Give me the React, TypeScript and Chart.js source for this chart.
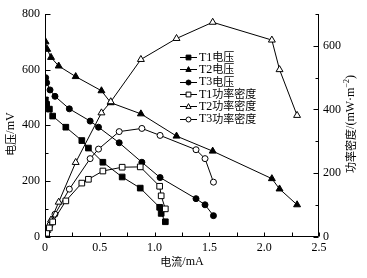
import React, { useEffect, useRef } from 'react';
import { Chart, registerables } from 'chart.js';

Chart.register(...registerables);

// ---- data (current in mA, voltage in mV, power density in mW·m^-2) ----
const t1Current = [0.003, 0.015, 0.04, 0.07, 0.19, 0.336, 0.396, 0.528, 0.704, 0.869, 1.046, 1.06, 1.098];
const t1Voltage = [491, 475, 458, 433, 393, 345, 318, 267, 214, 174, 105, 83, 53];
const t1Power = [2, 10, 27, 46, 112, 168, 180, 206, 218, 219, 158, 128, 87];

const t2Current = [0.005, 0.02, 0.055, 0.125, 0.28, 0.515, 0.6, 0.875, 1.2, 1.53, 2.07, 2.14, 2.3];
const t2Voltage = [700, 673, 644, 613, 575, 524, 481, 441, 361, 307, 208, 171, 114];
const t2Power = [5, 19, 52, 108, 233, 389, 424, 557, 623, 674, 618, 525, 381];

const t3Current = [0.006, 0.015, 0.046, 0.091, 0.222, 0.412, 0.488, 0.677, 0.884, 1.05, 1.378, 1.46, 1.537];
const t3Voltage = [571, 553, 527, 504, 459, 415, 393, 337, 267, 212, 136, 114, 75];
const t3Power = [5, 12, 36, 70, 149, 245, 275, 330, 340, 318, 273, 245, 171];

const legendLabels = ['T1电压', 'T2电压', 'T3电压', 'T1功率密度', 'T2功率密度', 'T3功率密度'];
const xTitle = '电流/mA';
const yTitle = '电压/mV';
const y1Title = '功率密度/(mW·m';

const SERIF = '"Liberation Serif", "Times New Roman", serif';
const CJK = '"Noto Sans CJK SC", sans-serif';

const pts = (xs: number[], ys: number[]) => xs.map((x, i) => ({ x, y: ys[i] }));

type Run = { t: string; font: string; dy?: number };

function drawRuns(ctx: CanvasRenderingContext2D, runs: Run[], cx: number, cy: number, rot: number) {
  ctx.save();
  ctx.translate(cx, cy);
  ctx.rotate(rot);
  ctx.textBaseline = 'middle';
  ctx.textAlign = 'left';
  ctx.fillStyle = '#000';
  let total = 0;
  const widths = runs.map((r) => {
    ctx.font = r.font;
    const w = ctx.measureText(r.t).width;
    total += w;
    return w;
  });
  let x = -total / 2;
  runs.forEach((r, i) => {
    ctx.font = r.font;
    ctx.fillText(r.t, x, r.dy || 0);
    x += widths[i];
  });
  ctx.restore();
}

function drawRunsLeft(ctx: CanvasRenderingContext2D, runs: Run[], x0: number, cy: number) {
  ctx.save();
  ctx.textBaseline = 'middle';
  ctx.textAlign = 'left';
  ctx.fillStyle = '#000';
  let x = x0;
  runs.forEach((r) => {
    ctx.font = r.font;
    ctx.fillText(r.t, x, r.dy || 0 + cy);
    x += ctx.measureText(r.t).width;
  });
  ctx.restore();
}

function marker(ctx: CanvasRenderingContext2D, shape: string, filled: boolean, x: number, y: number, s: number) {
  ctx.beginPath();
  if (shape === 'rect') {
    ctx.rect(x - s, y - s, 2 * s, 2 * s);
  } else if (shape === 'triangle') {
    ctx.moveTo(x, y - s * 1.2);
    ctx.lineTo(x + s * 1.1, y + s * 0.8);
    ctx.lineTo(x - s * 1.1, y + s * 0.8);
    ctx.closePath();
  } else {
    ctx.arc(x, y, s, 0, Math.PI * 2);
  }
  ctx.fillStyle = filled ? '#000' : '#fff';
  ctx.fill();
  ctx.lineWidth = 1;
  ctx.strokeStyle = '#000';
  ctx.stroke();
}

const legendShapes = [
  ['rect', true],
  ['triangle', true],
  ['circle', true],
  ['rect', false],
  ['triangle', false],
  ['circle', false],
] as const;

const decor = {
  id: 'decor',
  afterDraw(chart: any) {
    const ctx: CanvasRenderingContext2D = chart.ctx;
    const { left, right, top, bottom } = chart.chartArea;
    const xs = chart.scales.x;
    const ys = chart.scales.y;
    const y1s = chart.scales.y1;
    ctx.save();
    ctx.strokeStyle = '#000';
    ctx.lineWidth = 1;
    const seg = (x1: number, y1: number, x2: number, y2: number) => {
      ctx.beginPath();
      ctx.moveTo(x1, y1);
      ctx.lineTo(x2, y2);
      ctx.stroke();
    };
    // axis lines
    const L = Math.round(left) + 0.5;
    const R = Math.round(right) - 0.5;
    const B = Math.round(bottom) - 0.5;
    seg(L, top, L, B);
    seg(R, top, R, B);
    seg(L, B, R, B);
    // inward ticks
    xs.ticks.forEach((t: any) => {
      const px = Math.round(xs.getPixelForValue(t.value)) + 0.5;
      seg(px, B, px, B - 4);
    });
    ys.ticks.forEach((t: any) => {
      const py = Math.round(ys.getPixelForValue(t.value)) + 0.5;
      const len = t.value % 200 === 0 ? 5 : 3;
      seg(L, py, L + len, py);
    });
    y1s.ticks.forEach((t: any) => {
      const py = Math.round(y1s.getPixelForValue(t.value)) + 0.5;
      const len = t.value % 200 === 0 ? 5 : 3;
      seg(R, py, R - len, py);
    });

    // axis titles
    drawRuns(ctx, [
      { t: '电流', font: `11px ${CJK}` },
      { t: '/mA', font: `12px ${SERIF}` },
    ], (left + right) / 2, 262, 0);
    drawRuns(ctx, [
      { t: '电压', font: `11px ${CJK}` },
      { t: '/mV', font: `12px ${SERIF}` },
    ], 11, 134, -Math.PI / 2);
    drawRuns(ctx, [
      { t: '功率密度', font: `11px ${CJK}` },
      { t: '/(mW·m', font: `12px ${SERIF}` },
      { t: '−2', font: `8px ${SERIF}`, dy: -4 },
      { t: ')', font: `12px ${SERIF}` },
    ], 351, 124, -Math.PI / 2);

    // legend
    legendLabels.forEach((lab, i) => {
      const cy = 57 + i * 12.3;
      seg(180, Math.round(cy) + 0.5, 197, Math.round(cy) + 0.5);
      const [shape, filled] = legendShapes[i];
      marker(ctx, shape, filled, 188.5, Math.round(cy) + 0.5, shape === 'circle' ? 2.5 : 2.4);
      const m = lab.match(/^(T\d)(.*)$/);
      const a = m ? m[1] : lab;
      const b = m ? m[2] : '';
      ctx.save();
      ctx.textBaseline = 'middle';
      ctx.fillStyle = '#000';
      ctx.font = `12px ${SERIF}`;
      ctx.fillText(a, 199, cy + 0.5);
      const w = ctx.measureText(a).width;
      ctx.font = `11px ${CJK}`;
      ctx.fillText(b, 199 + w, cy);
      ctx.restore();
    });
    ctx.restore();
  },
};

export default function App() {
  const ref = useRef<HTMLCanvasElement | null>(null);

  useEffect(() => {
    if (!ref.current) return;
    const line = { borderColor: '#000', borderWidth: 1, showLine: true, pointBorderColor: '#000', pointBorderWidth: 1 };
    const chart = new Chart(ref.current, {
      type: 'scatter',
      data: {
        datasets: [
          { ...line, label: legendLabels[0], data: pts(t1Current, t1Voltage), yAxisID: 'y', pointStyle: 'rect', pointRadius: 4, pointBackgroundColor: '#000', order: 2 },
          { ...line, label: legendLabels[1], data: pts(t2Current, t2Voltage), yAxisID: 'y', pointStyle: 'triangle', pointRadius: 4, pointBackgroundColor: '#000', order: 2 },
          { ...line, label: legendLabels[2], data: pts(t3Current, t3Voltage), yAxisID: 'y', pointStyle: 'circle', pointRadius: 3, pointBackgroundColor: '#000', order: 2 },
          { ...line, label: legendLabels[3], data: pts(t1Current, t1Power), yAxisID: 'y1', pointStyle: 'rect', pointRadius: 4, pointBackgroundColor: '#fff', order: 1 },
          { ...line, label: legendLabels[4], data: pts(t2Current, t2Power), yAxisID: 'y1', pointStyle: 'triangle', pointRadius: 4, pointBackgroundColor: '#fff', order: 1 },
          { ...line, label: legendLabels[5], data: pts(t3Current, t3Power), yAxisID: 'y1', pointStyle: 'circle', pointRadius: 3, pointBackgroundColor: '#fff', order: 1 },
        ],
      },
      options: {
        animation: false,
        responsive: true,
        maintainAspectRatio: false,
        layout: { padding: { top: 14, left: 0, right: 0, bottom: 0 } },
        plugins: { legend: { display: false }, tooltip: { enabled: false } },
        scales: {
          x: {
            type: 'linear',
            min: 0,
            max: 2.5,
            grid: { display: false, drawTicks: false },
            border: { display: false },
            afterFit: (s: any) => { s.height = 41.5; },
            ticks: {
              stepSize: 0.25,
              autoSkip: false,
              maxRotation: 0,
              padding: 4,
              color: '#000',
              font: { family: SERIF, size: 12 },
              callback: (v: any) => {
                const n = Number(v);
                if (Math.abs(n * 2 - Math.round(n * 2)) > 1e-6) return '';
                return n === 0 ? '0' : n.toFixed(1);
              },
            },
          },
          y: {
            type: 'linear',
            position: 'left',
            min: 0,
            max: 800,
            grid: { display: false, drawTicks: false },
            border: { display: false },
            afterFit: (s: any) => { s.width = 45; },
            ticks: {
              stepSize: 100,
              autoSkip: false,
              padding: 5,
              color: '#000',
              font: { family: SERIF, size: 12 },
              callback: (v: any) => (Number(v) % 200 === 0 ? String(v) : ''),
            },
          },
          y1: {
            type: 'linear',
            position: 'right',
            min: 0,
            max: 700,
            grid: { display: false, drawTicks: false },
            border: { display: false },
            afterFit: (s: any) => { s.width = 48; },
            ticks: {
              stepSize: 100,
              autoSkip: false,
              padding: 4,
              color: '#000',
              font: { family: SERIF, size: 12 },
              callback: (v: any) => (Number(v) % 200 === 0 ? String(v) : ''),
            },
          },
        },
      },
      plugins: [decor],
    });
    return () => chart.destroy();
  }, []);

  return (
    <div style={{ position: 'absolute', left: 0, top: 0, width: 367, height: 278, background: '#fff' }}>
      <canvas ref={ref} />
    </div>
  );
}
